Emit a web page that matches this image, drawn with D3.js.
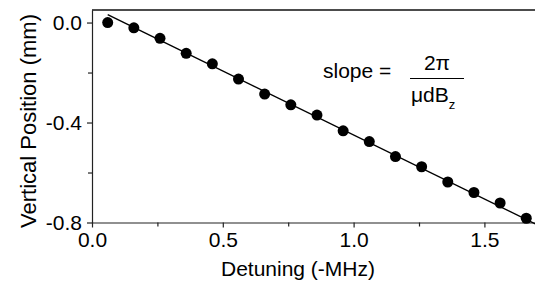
<!DOCTYPE html>
<html>
<head>
<meta charset="utf-8">
<script src="https://cdn.jsdelivr.net/npm/d3@7"></script>
<style>
  body { margin: 0; background: #fff; }
  svg { font-family: "Liberation Sans", Arial, sans-serif; }
</style>
</head>
<body>
<div id="chart"></div>
<script>
// detuning (-MHz) of each measured point
const detuning = [0.06, 0.16, 0.26, 0.36, 0.46, 0.56, 0.66, 0.76, 0.86,
  0.96, 1.06, 1.16, 1.26, 1.36, 1.46, 1.56, 1.66];
// vertical position (mm)
const position = [0.0, -0.021, -0.063, -0.123, -0.165, -0.226, -0.286, -0.329,
  -0.370, -0.433, -0.476, -0.536, -0.577, -0.638, -0.680, -0.722, -0.783];

// linear fit
const fitSlope = -0.512;
const fitIntercept = 0.062;
const fitRange = [0.06, 1.7];

const xTicks = [0, 0.5, 1.0, 1.5];
const xMinor = [0.25, 0.75, 1.25];
const yTicks = [0, -0.4, -0.8];
const yMinor = [-0.2, -0.6];

const width = 535;
const height = 282;
const plotLeft = 92, plotTop = 10, plotRight = 535, plotBottom = 222.5;

const x = d3.scaleLinear().domain([0, 1.6934]).range([plotLeft, plotRight]);
const y = d3.scaleLinear().domain([-0.8, 0.0502]).range([plotBottom, plotTop]);

const svg = d3.select("#chart")
  .append("svg")
  .attr("width", width)
  .attr("height", height);

/* axes */
const xAxis = svg.append("g")
  .attr("transform", `translate(0, ${plotBottom})`)
  .call(d3.axisBottom(x).tickValues(xTicks).tickSize(5).tickPadding(5)
    .tickFormat(d3.format(".1f")).tickSizeOuter(0));

svg.append("g")
  .attr("transform", `translate(0, ${plotBottom})`)
  .call(d3.axisBottom(x).tickValues(xMinor).tickSize(4).tickFormat("").tickSizeOuter(0))
  .select(".domain").remove();

const yAxis = svg.append("g")
  .attr("transform", `translate(${plotLeft}, 0)`)
  .call(d3.axisLeft(y).tickValues(yTicks).tickSize(5).tickPadding(5)
    .tickFormat(d3.format(".1f")).tickSizeOuter(0));

svg.append("g")
  .attr("transform", `translate(${plotLeft}, 0)`)
  .call(d3.axisLeft(y).tickValues(yMinor).tickSize(4).tickFormat("").tickSizeOuter(0))
  .select(".domain").remove();

svg.selectAll(".tick text")
  .style("font-size", "21px")
  .style("font-family", "Liberation Sans, Arial, sans-serif")
  .attr("fill", "#000");
svg.selectAll(".domain, .tick line").attr("stroke", "#222").attr("stroke-width", 1.2);
// minus sign as hyphen like the original
yAxis.selectAll(".tick text").text((d) => d3.format(".1f")(d).replace("\u2212", "-"));

// top frame line
svg.append("line")
  .attr("x1", plotLeft).attr("x2", plotRight)
  .attr("y1", plotTop).attr("y2", plotTop)
  .attr("stroke", "#111").attr("stroke-width", 1.4);

/* axis titles */
svg.append("text")
  .attr("x", 298)
  .attr("y", 276)
  .attr("text-anchor", "middle")
  .style("font-size", "21px")
  .text("Detuning (-MHz)");

svg.append("text")
  .attr("transform", `translate(36, 121) rotate(-90)`)
  .attr("text-anchor", "middle")
  .style("font-size", "22px")
  .text("Vertical Position (mm)");

/* fit line */
const line = d3.line()
  .x((d) => x(d))
  .y((d) => y(fitIntercept + fitSlope * d));

svg.append("path")
  .attr("d", line(fitRange))
  .attr("fill", "none")
  .attr("stroke", "#000")
  .attr("stroke-width", 1.4);

/* points */
svg.append("g")
  .selectAll("circle")
  .data(detuning)
  .enter()
  .append("circle")
  .attr("cx", (d) => x(d))
  .attr("cy", (d, i) => y(position[i]))
  .attr("r", 5.5)
  .attr("fill", "#000");

/* annotation */
const note = svg.append("g").style("font-size", "21px");
note.append("text").attr("x", 323).attr("y", 78).text("slope =");
note.append("text").attr("x", 437).attr("y", 70).attr("text-anchor", "middle").text("2\u03c0");
note.append("line")
  .attr("x1", 410).attr("x2", 464)
  .attr("y1", 78.5).attr("y2", 78.5)
  .attr("stroke", "#000").attr("stroke-width", 1);
const den = note.append("text").attr("x", 411).attr("y", 102);
den.append("tspan").text("\u03bcdB");
den.append("tspan").attr("dy", 7).style("font-size", "13px").text("z");
</script>
</body>
</html>
